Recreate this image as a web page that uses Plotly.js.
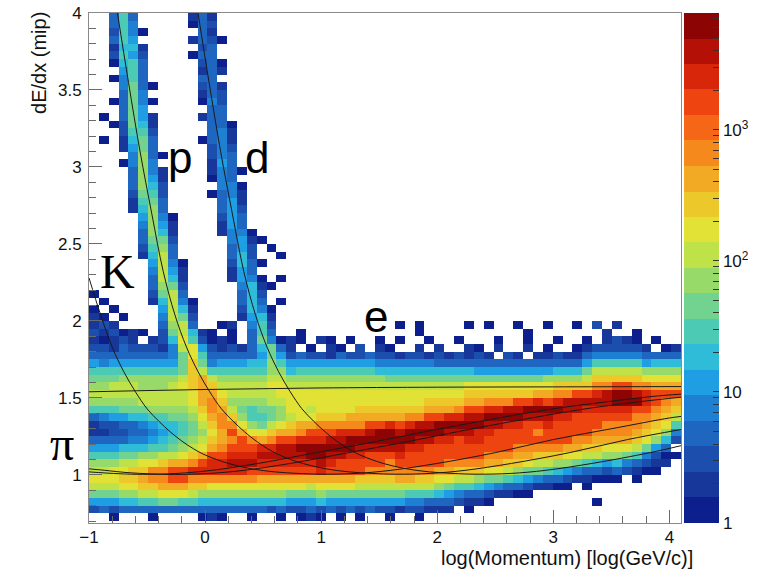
<!DOCTYPE html>
<html>
<head>
<meta charset="utf-8">
<script src="https://cdn.plot.ly/plotly-3.0.1.min.js"></script>
<style>
  html, body { margin: 0; padding: 0; background: #ffffff; }
  #chart { width: 767px; height: 571px; }
</style>
</head>
<body>
<div id="chart"></div>
<script>
// ---- binning of the dE/dx vs log(p) histogram ----
const X_FIRST_CENTER = -0.9575, X_BIN = 0.085;   // 60 bins, -1 .. 4.1
const Y_FIRST_CENTER = 0.725,  Y_BIN = 0.05;     // 66 bins, 0.7 .. 4.0
const Z_MAX_COUNT = 7773;                        // top of the colour scale

// entries per bin, coded by one character ('.' = empty bin)
const countByCode = {
  '0': 1, '1': 2, '2': 3, '3': 4, '4': 5, '5': 7, '6': 12, '7': 18, '8': 29, '9': 45,
  'a': 70, 'b': 110, 'c': 173, 'd': 270, 'e': 423, 'f': 660, 'g': 1620, 'h': 2540, 'i': 3970, 'j': 6220
};

// rows from dE/dx = 4.0 (top) down to 0.7 (bottom); 60 columns each, grouped by 10
const countRowsTopDown = [
  "..384..... 131....... .......... .......... .......... ..........",
  "..385..... 032....... .......... .......... .......... ..........",
  "..2850.... .41....... .......... .......... .......... ..........",
  "..386..... 1320...... .......... .......... .......... ..........",
  "..1771.... .23....... .......... .......... .......... ..........",
  "..2862.... 033....... .......... .......... .......... ..........",
  "..0783.... .240...... .......... .......... .......... ..........",
  "...683.... .141...... .......... .......... .......... ..........",
  "..0584.... .33....... .......... .......... .......... ..........",
  "...5940... .241...... .......... .......... .......... ..........",
  "...495.... .142...... .......... .......... .......... ..........",
  "..04950... .052...... .......... .......... .......... ..........",
  "...396.... ..43...... .......... .......... .......... ..........",
  ".0.3961... .143...... .......... .......... .......... ..........",
  "..02971... ..440..... .......... .......... .......... ..........",
  "...2882... ..351..... .......... .......... .......... ..........",
  ".0.1793... .0351..... .......... .......... .......... ..........",
  "...1694... ..252..... .......... .......... .......... ..........",
  "....5a40.. ..253..... .......... .......... .......... ..........",
  "...05a5... ..163..... .......... .......... .......... ..........",
  "....4a51.. ..1530.... .......... .......... .......... ..........",
  "....4a61.. ..054..... .......... .......... .......... ..........",
  "....3a72.. ...550.... .......... .......... .......... ..........",
  "....2982.. ..0451.... .......... .......... .......... ..........",
  "....1893.. ...461.... .......... .......... .......... ..........",
  "....17a4.. ...362.... .......... .......... .......... ..........",
  ".....6a50. ...263.... .......... .......... .......... ..........",
  ".....5a61. ...164.... .......... .......... .......... ..........",
  ".....4a71. ...1550... .......... .......... .......... ..........",
  ".....3992. ....5610.. .......... .......... .......... ..........",
  ".....28a3. ....462.0. .......... .......... .......... ..........",
  ".....17b4. ....372..0 .......... .......... .......... ..........",
  "......6b50 ....2730.. .......... .......... .......... ..........",
  "......5b61 ....164... .......... .......... .......... ..........",
  "......4b71 ....1650.0 .......... .......... .......... ..........",
  "......3a92 .....5710. .......... .......... .......... ..........",
  "0.....29b3 .....472.. .......... .......... .......... ..........",
  ".0....17b5 0....373.0 .......... .......... .......... ..........",
  "0.0....6b7 1....2750. .......... .......... .......... ..........",
  "10.0...5b9 2....1671. .......... .......... .......... ..........",
  "121....3ab 4..01.582. .......... .0.0....0. 0..0..0..0 .2.1......",
  "212010.29b 710.0.484. .0........ ...0...... ....0..... ..1..0....",
  "10121.127c 82010.4950 10.10.0..0 .0..0..0.. .0..0..0.. 0.1210.0..",
  "221322215b c621213793 1.0.10.2.1 0..1.1..10 .1..1.0..0 1222221.01",
  "4434334359 c833434696 2322132232 2122121212 1.21.11211 3555553344",
  "6566666669 d9566677a8 6666666665 5555544444 4433333444 6888886777",
  "8888888889 db888888aa 7888888887 7777777776 6666666777 9bbbbbaaaa",
  "999aaaaaab debaaaaabb aaaaaaaaaa 9999999999 999999aaaa bdddddcccc",
  "aabbbaaabc dedbbbbbcc bbbbbbbbbb bbbbbbbbcc cccccccddd dffggffeee",
  "bbbbbbbbbb ceecbbbbbc cccccccccc ccccccccdd dddddeeffg ghijjihggg",
  "aaaaabbbbb cefdaaaabb cccccccccc ccccddddee fffgghghii iiijjjhgfe",
  "888999aaaa bdfeb9899a ccbccccddd ddddeeefgg hhiijjjjii hhhhhggfed",
  "4566778899 acefda889a bccdddeeee eeffgghhii jjjjiiihhg gggggffedb",
  "1223456778 9bdffca9bc deefffffgg hghiijjjjj iihhgghggg ggffffedc8",
  "1122345678 9acegeccde efggghhhij jijjjjiiih hggggfgggg gffffedca5",
  "3344556789 abdefgfefg ghhhiijjjj jjjiihhghh gggggggggf feeeedca72",
  "666777889a bcefggghhi ijjjjjjiii iihhgggggg gggfffffee ddcccb963.",
  "88899aabbc degghhhiii iijjiihhgg ghgggggggg fffeedddcc bbaa985200",
  "aaabbccdee fghhiiihhh hhhihggggg fgggggffff eeddcbbaa9 876754211.",
  "bbccddffgg hhhhhhgggg ggghggggff fffffeeddd ccba998765 43232100..",
  "cccddeffgg fffffffeee eeeeeeeddd deeddccbba 9987654321 1000.0....",
  "bbbccddeee ddcccccccc ccbccccbbb bbbbba9887 654321100. 0.........",
  "999aabbccc baaaaaaaaa 999a999999 9988876543 21100..... ..........",
  "6667788998 8777777777 6667666666 6655443211 0......... .0........",
  "2324343443 3343434323 2232323232 2122111.0. .......... ..........",
  "..0...0... .010..0..0 .010.0.0.. 0..0...... .......... .........."
];

// expected dE/dx bands (x = log momentum, y = dE/dx in mip)
const electronX = [-1, -0.5, 0, 0.5, 1, 2, 3, 4.1];
const electronY = [1.54, 1.548, 1.555, 1.56, 1.565, 1.57, 1.572, 1.574];
const muonX = [-1, -0.742, -0.542, -0.242, 0.058, 0.458, 0.958, 1.458, 1.958, 2.458, 2.958, 3.458, 3.858, 4.1];
const muonY = [1.02, 1.008, 1.004, 1.01, 1.03, 1.075, 1.145, 1.215, 1.29, 1.36, 1.425, 1.475, 1.51, 1.525];
const pionX = [-1, -0.864, -0.664, -0.464, -0.264, 0.036, 0.336, 0.736, 1.236, 1.736, 2.236, 2.736, 3.236, 3.736, 4.1];
const pionY = [1.04, 1.03, 1.015, 1.007, 1.003, 1.01, 1.03, 1.075, 1.145, 1.215, 1.29, 1.36, 1.425, 1.475, 1.505];
const kaonX = [-1, -0.9, -0.8, -0.7, -0.6, -0.5, -0.4, -0.3, -0.2, -0.1, 0, 0.2, 0.4, 0.6, 0.8, 1.0, 1.3, 1.6, 2.0, 2.5, 3.0, 3.5, 4.0, 4.1];
const kaonY = [2.28, 2.04, 1.83, 1.67, 1.54, 1.43, 1.35, 1.28, 1.22, 1.17, 1.13, 1.075, 1.04, 1.02, 1.01, 1.005, 1.01, 1.03, 1.075, 1.145, 1.23, 1.30, 1.37, 1.38];
const protonX = [-0.755, -0.66, -0.56, -0.46, -0.36, -0.26, -0.16, -0.06, 0.04, 0.14, 0.24, 0.34, 0.44, 0.54, 0.64, 0.84, 1.04, 1.24, 1.44, 1.64, 1.94, 2.24, 2.64, 3.14, 3.64, 4.1];
const protonY = [4.0, 3.55, 3.1, 2.7, 2.32, 2.04, 1.83, 1.67, 1.54, 1.43, 1.35, 1.28, 1.22, 1.17, 1.13, 1.075, 1.04, 1.02, 1.01, 1.005, 1.01, 1.03, 1.075, 1.145, 1.23, 1.295];
const deuteronX = [-0.061, 0.034, 0.134, 0.234, 0.334, 0.434, 0.534, 0.634, 0.734, 0.834, 0.934, 1.034, 1.134, 1.234, 1.334, 1.534, 1.734, 1.934, 2.134, 2.334, 2.634, 2.934, 3.334, 3.834, 4.1];
const deuteronY = [4.0, 3.55, 3.1, 2.7, 2.32, 2.04, 1.83, 1.67, 1.54, 1.43, 1.35, 1.28, 1.22, 1.17, 1.13, 1.075, 1.04, 1.02, 1.01, 1.005, 1.01, 1.03, 1.075, 1.145, 1.19];

// palette: 20 steps from navy to dark red
const paletteSteps = [
  '#0c1f8c', '#17379b', '#1c4fad', '#1e66bf', '#1e80d2',
  '#1f9ee3', '#2fbcd8', '#4dcab4', '#72d290', '#98da6a',
  '#c0e249', '#e2e136', '#ecc82b', '#f2a923', '#f5891c',
  '#f56616', '#ee4510', '#d8260a', '#b41005', '#8c0404'
];

const colorscale = [];
paletteSteps.forEach((c, k) => {
  colorscale.push([k / paletteSteps.length, c]);
  colorscale.push([(k + 1) / paletteSteps.length, c]);
});

const codeRows = countRowsTopDown.map(r => r.replace(/ /g, '')).reverse();
const zLog = codeRows.map(r => Array.from(r).map(ch => ch === '.' ? null : Math.log10(countByCode[ch])));
const zTop = Math.log10(Z_MAX_COUNT);

// colour-bar ticks: decades labelled, 2..9 unlabelled
const cbTickVals = [], cbTickText = [];
const decadeText = ['1', '10', '10<sup>2</sup>', '10<sup>3</sup>'];
for (let d = 0; d <= 3; d++) {
  for (let m = 1; m <= 9; m++) {
    const v = d + Math.log10(m);
    if (v > zTop) break;
    cbTickVals.push(v);
    cbTickText.push(m === 1 ? decadeText[d] : '');
  }
}

const heat = {
  type: 'heatmap',
  z: zLog,
  x0: X_FIRST_CENTER, dx: X_BIN,
  y0: Y_FIRST_CENTER, dy: Y_BIN,
  zmin: 0, zmax: zTop,
  zsmooth: false,
  colorscale: colorscale,
  hoverinfo: 'skip',
  colorbar: {
    x: 1.005, xanchor: 'left', xpad: 0,
    y: 0.5, yanchor: 'middle', ypad: 0,
    len: 1, lenmode: 'fraction',
    thickness: 35, thicknessmode: 'pixels',
    outlinewidth: 0,
    tickmode: 'array', tickvals: cbTickVals, ticktext: cbTickText,
    ticks: 'inside', ticklen: 6, tickcolor: '#333', tickwidth: 1,
    tickfont: { family: 'Liberation Sans', size: 17, color: '#111' }
  }
};

function bandLine(xs, ys) {
  return {
    type: 'scatter', mode: 'lines', x: xs, y: ys,
    line: { color: '#1a1a1a', width: 1, shape: 'spline', smoothing: 1 },
    hoverinfo: 'skip', showlegend: false
  };
}

const traces = [
  heat,
  bandLine(electronX, electronY),
  bandLine(muonX, muonY),
  bandLine(pionX, pionY),
  bandLine(kaonX, kaonY),
  bandLine(protonX, protonY),
  bandLine(deuteronX, deuteronY)
];

// longer marks on the colour bar at each decade
const cbRight = (719 - 89) / 592;
const cbMajorShapes = [1, 2, 3].map(v => ({
  type: 'line', xref: 'paper', yref: 'paper',
  x0: cbRight - 13 / 592, x1: cbRight, y0: v / zTop, y1: v / zTop,
  line: { color: '#333', width: 1 }
}));

const axisCommon = {
  showgrid: false, zeroline: false,
  showline: true, mirror: true, linecolor: '#8a8a8a', linewidth: 1,
  ticks: 'inside', tickcolor: '#6a6a6a', tickwidth: 1,
  tickfont: { family: 'Liberation Sans', size: 17, color: '#111' }
};

const layout = {
  width: 767, height: 571,
  margin: { l: 89, r: 86, t: 13, b: 48 },
  paper_bgcolor: '#ffffff', plot_bgcolor: '#ffffff',
  font: { family: 'Liberation Sans', color: '#111' },
  showlegend: false,
  xaxis: Object.assign({}, axisCommon, {
    range: [-1, 4.1],
    tickmode: 'array', tickvals: [-1, 0, 1, 2, 3, 4],
    ticklen: 13, ticklabelstandoff: -1,
    minor: { dtick: 0.2, tick0: 0, ticks: 'inside', ticklen: 7, tickcolor: '#6a6a6a', showgrid: false }
  }),
  yaxis: Object.assign({}, axisCommon, {
    range: [0.688, 4.0],
    tickmode: 'array', tickvals: [1, 1.5, 2, 2.5, 3, 3.5, 4],
    ticklen: 13, ticklabelstandoff: 3,
    minor: { dtick: 0.1, tick0: 0, ticks: 'inside', ticklen: 7, tickcolor: '#6a6a6a', showgrid: false }
  }),
  shapes: cbMajorShapes,
  annotations: [
    { text: 'dE/dx (mip)', xref: 'paper', yref: 'paper', x: -0.0845, y: 1.006,
      xanchor: 'center', yanchor: 'top', textangle: -90, showarrow: false,
      font: { family: 'Liberation Sans', size: 20, color: '#111' } },
    { text: 'log(Momentum) [log(GeV/c)]', xref: 'paper', yref: 'paper', x: 1.0236, y: -0.068,
      xanchor: 'right', yanchor: 'middle', showarrow: false,
      font: { family: 'Liberation Sans', size: 20, color: '#111' } },
    { text: 'p', xref: 'x', yref: 'y', x: -0.22, y: 3.06, showarrow: false,
      xanchor: 'center', yanchor: 'middle', font: { family: 'Liberation Sans', size: 44, color: '#000' } },
    { text: 'd', xref: 'x', yref: 'y', x: 0.444, y: 3.06, showarrow: false,
      xanchor: 'center', yanchor: 'middle', font: { family: 'Liberation Sans', size: 44, color: '#000' } },
    { text: 'e', xref: 'x', yref: 'y', x: 1.475, y: 2.03, showarrow: false,
      xanchor: 'center', yanchor: 'middle', font: { family: 'Liberation Sans', size: 44, color: '#000' } },
    { text: 'K', xref: 'x', yref: 'y', x: -0.754, y: 2.32, showarrow: false,
      xanchor: 'center', yanchor: 'middle', font: { family: 'Liberation Serif', size: 48, color: '#000' } },
    { text: 'π', xref: 'paper', yref: 'paper', x: (62 - 89) / 592, y: (523 - 443) / 510, showarrow: false,
      xanchor: 'center', yanchor: 'middle', font: { family: 'Liberation Serif', size: 48, color: '#000' } }
  ]
};

Plotly.newPlot('chart', traces, layout, { displayModeBar: false, staticPlot: true });
</script>
</body>
</html>
